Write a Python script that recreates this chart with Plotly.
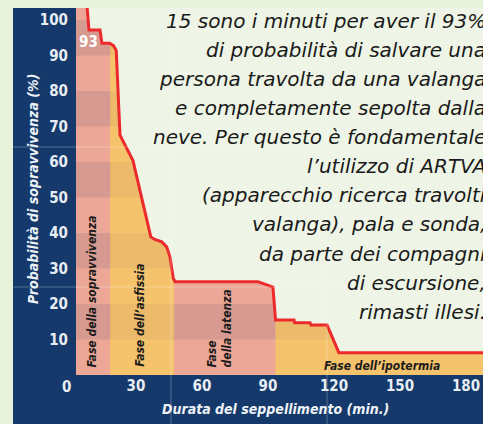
import numpy as np
import plotly.graph_objects as go

# ---------------- data ----------------
minutes = [0, 5.0, 5.9, 10.9, 11.8, 15.3, 17.0, 18.3, 20.0, 25.9, 34.0, 35.8, 39.0,
           41.2, 42.7, 44.2, 45.0, 82.7, 89.5, 90.7, 99.1, 99.4, 106.4, 106.8,
           114.1, 119.5, 190]
prob = [104, 104, 97.2, 97.2, 93.5, 93.5, 92.8, 91.4, 67.6, 60.4, 38.9, 38.2, 37.5,
        36.1, 33.3, 27.3, 26.3, 26.3, 24.8, 15.5, 15.5, 14.7, 14.7, 14.1,
        14.1, 6.3, 6.3]

phase_names = ["Fase della sopravvivenza", "Fase dell’asfissia",
               "Fase<br>della latenza", "Fase dell’ipotermia"]
phase_start = [0, 15.5, 44.6, 90.6]
phase_end = [15.5, 44.6, 90.6, 190]
pink_phases = [0, 2]

stripe_lo = [10, 30, 50, 70, 90]
stripe_hi = [20, 40, 60, 80, 100]

y_ticks = [10, 20, 30, 40, 50, 60, 70, 80, 90, 100]
x_ticks = [30, 60, 90, 120, 150, 180]

label_93 = "93"

text_lines = [
    "15 sono i minuti per aver il 93%",
    "di probabilità di salvare una",
    "persona travolta da una valanga",
    "e completamente sepolta dalla",
    "neve. Per questo è fondamentale",
    "l’utilizzo di ARTVA",
    "(apparecchio ricerca travolti",
    "valanga), pala e sonda,",
    "da parte dei compagni",
    "di escursione,",
    "rimasti illesi.",
]

# ---------------- style ----------------
W, H = 483, 424
ML, MR, MT, MB = 76, 0, 8, 49
PW, PH = W - ML - MR, H - MT - MB
XMAX = 185.0
YMAX = 103.4

NAVY = "#14396a"
PAGE = "#e8f1da"
PLOTBG = "#eef5e6"
ORANGE = "#f5c36c"
PINK = "#eca797"
RED = "#ec2a2c"
COND = "Liberation Sans Narrow, DejaVu Sans Condensed, Arial Narrow, sans-serif"
HAND = "DejaVu Sans, sans-serif"


def px(xp):
    return (xp - ML) / PW


def py(yp):
    return (H - MB - yp) / PH


def sub_curve(xa, xb):
    xs = [xa] + [m for m in minutes if xa < m < xb] + [xb]
    ys = list(np.interp(xs, minutes, prob))
    return xs, ys


def band_polygon(xa, xb, lo, hi):
    pts = set([xa, xb])
    for m in minutes:
        if xa < m < xb:
            pts.add(m)
    for i in range(len(minutes) - 1):
        x0, x1 = minutes[i], minutes[i + 1]
        y0, y1 = prob[i], prob[i + 1]
        for lev in (lo, hi):
            if (y0 - lev) * (y1 - lev) < 0:
                xc = x0 + (lev - y0) * (x1 - x0) / (y1 - y0)
                if xa < xc < xb:
                    pts.add(xc)
    xs = sorted(pts)
    yt = list(np.clip(np.interp(xs, minutes, prob), lo, hi))
    if max(yt) <= lo:
        return None
    return xs + xs[::-1], yt + [lo] * len(xs)


fig = go.Figure()

# whole area under the curve
fig.add_trace(go.Scatter(x=minutes, y=prob, mode="lines", line=dict(width=0),
                         fill="tozeroy", fillcolor=ORANGE, hoverinfo="skip"))
# pink phases
for k in pink_phases:
    xs, ys = sub_curve(phase_start[k], phase_end[k])
    fig.add_trace(go.Scatter(x=xs, y=ys, mode="lines", line=dict(width=0),
                             fill="tozeroy", fillcolor=PINK, hoverinfo="skip"))
# stripes (general, and extra in pink phases)
for lo, hi in zip(stripe_lo, stripe_hi):
    poly = band_polygon(0, XMAX, lo, hi)
    if poly:
        fig.add_trace(go.Scatter(x=poly[0], y=poly[1], mode="lines", line=dict(width=0),
                                 fill="toself", fillcolor="rgba(120,80,100,0.07)",
                                 hoverinfo="skip"))
    for k in pink_phases:
        poly = band_polygon(phase_start[k], phase_end[k], lo, hi)
        if poly:
            fig.add_trace(go.Scatter(x=poly[0], y=poly[1], mode="lines", line=dict(width=0),
                                     fill="toself", fillcolor="rgba(100,90,130,0.09)",
                                     hoverinfo="skip"))
# red curve
fig.add_trace(go.Scatter(x=minutes, y=prob, mode="lines",
                         line=dict(color=RED, width=3), hoverinfo="skip"))

shapes = [
    dict(type="rect", xref="paper", yref="paper", x0=px(13), x1=1.02, y0=py(H + 2), y1=1,
         fillcolor=NAVY, line=dict(width=0), layer="below"),
    dict(type="rect", xref="paper", yref="paper", x0=0, x1=1.02, y0=0, y1=1,
         fillcolor=PLOTBG, line=dict(width=0), layer="below"),
]
for xv in (171, 327):
    shapes.append(dict(type="line", xref="paper", yref="paper", x0=px(xv), x1=px(xv),
                       y0=py(H + 2), y1=1, line=dict(color="rgba(255,255,255,0.28)", width=1),
                       layer="above"))
for yv in (147, 287):
    shapes.append(dict(type="line", xref="paper", yref="paper", x0=px(13), x1=1.02,
                       y0=py(yv), y1=py(yv), line=dict(color="rgba(255,255,255,0.28)", width=1),
                       layer="above"))

ann = []
# "0" corner label
ann.append(dict(xref="paper", yref="paper", x=px(66), y=py(387), text="0", showarrow=False,
                font=dict(family=COND, size=15, color="#e8edf3", weight=700),
                xanchor="center", yanchor="middle"))
# axis titles
ann.append(dict(xref="paper", yref="paper", x=px(33), y=py(189),
                text="Probabilità di sopravvivenza (%)", textangle=-90, showarrow=False,
                font=dict(family=COND, size=14, color="#eef2f7", weight=700, style="italic"),
                xanchor="center", yanchor="middle"))
ann.append(dict(xref="paper", yref="paper", x=px(275), y=py(409),
                text="Durata del seppellimento (min.)", showarrow=False,
                font=dict(family=COND, size=14, color="#eef2f7", weight=700, style="italic"),
                xanchor="center", yanchor="middle"))
# 93 label
ann.append(dict(x=5.5, y=93.7, text=label_93, showarrow=False,
                font=dict(family=COND, size=15, color="#ffffff", weight=700),
                xanchor="center", yanchor="middle"))
# phase labels
phase_lab_x = [7.3, 29.1, 65.5]
for k in range(3):
    ann.append(dict(x=phase_lab_x[k], y=1.6, text=phase_names[k], textangle=-90,
                    showarrow=False, align="left",
                    font=dict(family=COND, size=12, color="#1c1c1c", weight=700, style="italic"),
                    xanchor="center", yanchor="bottom"))
ann.append(dict(x=139, y=2.6, text=phase_names[3], showarrow=False,
                font=dict(family=COND, size=12, color="#1c1c1c", weight=700, style="italic"),
                xanchor="center", yanchor="middle"))
# big text block
for i, line in enumerate(text_lines):
    base = 26.7 + 29.1 * i
    ann.append(dict(xref="paper", yref="paper", x=px(488), y=py(base - 6), text=line,
                    showarrow=False, xanchor="right", yanchor="middle",
                    font=dict(family=HAND, size=20, color="#1a1a1a", style="italic")))

fig.update_layout(
    width=W, height=H,
    margin=dict(l=ML, r=MR, t=MT, b=MB),
    paper_bgcolor=PAGE,
    plot_bgcolor="rgba(0,0,0,0)",
    showlegend=False,
    shapes=shapes,
    annotations=ann,
    xaxis=dict(range=[0, XMAX], tickvals=x_ticks, showgrid=False, zeroline=False,
               showline=False, ticks="", ticklabeloverflow="allow", ticklabelshift=-6,
               tickfont=dict(family=COND, size=15, color="#e8edf3", weight=700),
               fixedrange=True),
    yaxis=dict(range=[0, YMAX], tickvals=y_ticks, showgrid=False, zeroline=False,
               showline=False, ticks="outside", ticklen=4, tickcolor=NAVY,
               ticklabeloverflow="allow",
               tickfont=dict(family=COND, size=15, color="#e8edf3", weight=700),
               fixedrange=True),
)

page_fix = ("document.body.style.margin='0';document.body.style.padding='0';"
            "document.body.style.overflow='hidden';"
            "document.body.style.background='" + PAGE + "';")
fig.write_html("out.html", post_script=page_fix, config={"displayModeBar": False})
